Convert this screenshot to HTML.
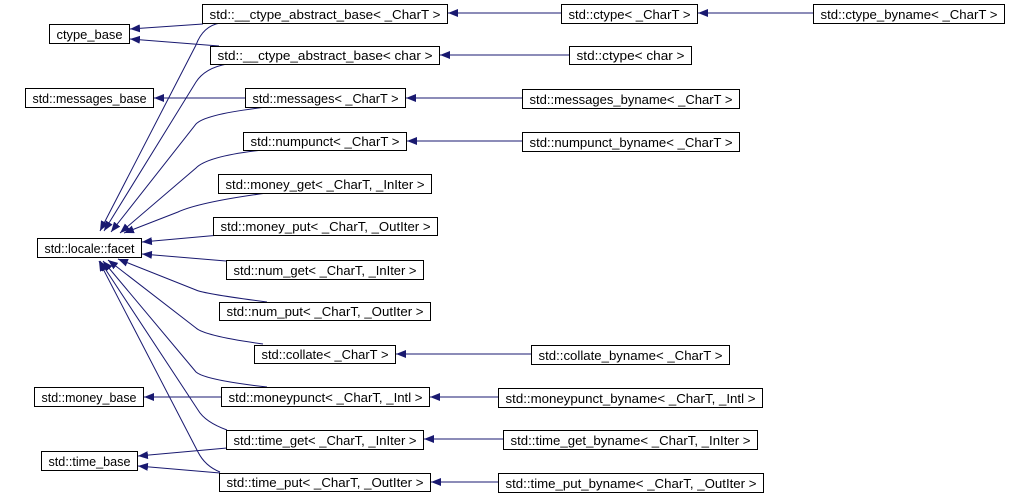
<!DOCTYPE html>
<html><head><meta charset="utf-8"><style>
html,body{margin:0;padding:0;background:#fff;}
svg{display:block;}
text{font-family:"Liberation Sans",sans-serif;font-size:13px;fill:#000;}
</style></head><body>
<svg width="1030" height="494" viewBox="0 0 1030 494" xmlns="http://www.w3.org/2000/svg">
<defs>
<marker id="a" markerWidth="11" markerHeight="8" refX="10" refY="4" orient="auto" markerUnits="userSpaceOnUse">
<path d="M0,0 L10,4 L0,8 z" fill="#191970"/>
</marker>
</defs>
<g fill="none" stroke="#191970" stroke-width="1" marker-end="url(#a)">
<path d="M561,13 L448,13"/>
<path d="M813,13 L698,13"/>
<path d="M569,55 L440,55"/>
<path d="M522,98 L406,98"/>
<path d="M522,141 L407,141"/>
<path d="M531,354 L396,354"/>
<path d="M498,397 L430,397"/>
<path d="M503,439 L424,439"/>
<path d="M498,482 L431,482"/>
<path d="M203,24 L130,29"/>
<path d="M219,46 L130,39"/>
<path d="M245,98 L154,98"/>
<path d="M221,397 L144,397"/>
<path d="M227,448 L138,456"/>
<path d="M220,473 L138,466"/>
<path d="M220,23 Q203,26 196,45 L100,231"/>
<path d="M227,64 Q205,68 196,82 L104,231"/>
<path d="M267,107 Q205,114 196,124 L111,232"/>
<path d="M263,150 Q208,156 196,168 L120,233"/>
<path d="M267,193 Q200,202 178,212 L124,233"/>
<path d="M220,235 L142,242"/>
<path d="M226,261 L142,254"/>
<path d="M267,302 Q205,294 196,290 L118,259"/>
<path d="M263,344 Q205,336 196,328 L108,260"/>
<path d="M267,387 Q205,380 196,372 L103,261"/>
<path d="M227,430 Q205,422 198,410 L100,261"/>
<path d="M220,472 Q205,466 198,452 L99,261"/>
</g>
<g fill="#fff" stroke="#000" stroke-width="1">
<rect x="49.5" y="24.5" width="80" height="19"/>
<rect x="202.5" y="4.5" width="245" height="19"/>
<rect x="210.5" y="46.5" width="229" height="18"/>
<rect x="25.5" y="88.5" width="128" height="19"/>
<rect x="245.5" y="88.5" width="160" height="19"/>
<rect x="243.5" y="132.5" width="163" height="18"/>
<rect x="218.5" y="174.5" width="213" height="19"/>
<rect x="213.5" y="217.5" width="224" height="18"/>
<rect x="37.5" y="238.5" width="104" height="19"/>
<rect x="226.5" y="260.5" width="197" height="19"/>
<rect x="219.5" y="302.5" width="211" height="18"/>
<rect x="254.5" y="345.5" width="141" height="18"/>
<rect x="34.5" y="387.5" width="109" height="19"/>
<rect x="221.5" y="387.5" width="208" height="19"/>
<rect x="226.5" y="430.5" width="197" height="19"/>
<rect x="41.5" y="451.5" width="96" height="19"/>
<rect x="219.5" y="473.5" width="211" height="18"/>
<rect x="561.5" y="4.5" width="136" height="19"/>
<rect x="813.5" y="4.5" width="191" height="19"/>
<rect x="569.5" y="46.5" width="122" height="18"/>
<rect x="522.5" y="89.5" width="217" height="19"/>
<rect x="522.5" y="132.5" width="217" height="19"/>
<rect x="531.5" y="345.5" width="198" height="19"/>
<rect x="498.5" y="388.5" width="264" height="19"/>
<rect x="503.5" y="430.5" width="254" height="19"/>
<rect x="498.5" y="473.5" width="265" height="19"/>
</g>
<g text-anchor="middle" lengthAdjust="spacingAndGlyphs">
<text x="89.5" y="39" textLength="66" lengthAdjust="spacingAndGlyphs">ctype_base</text>
<text x="325" y="19" textLength="231" lengthAdjust="spacingAndGlyphs">std::__ctype_abstract_base&lt; _CharT &gt;</text>
<text x="325" y="60" textLength="215" lengthAdjust="spacingAndGlyphs">std::__ctype_abstract_base&lt; char &gt;</text>
<text x="89.5" y="103" textLength="114" lengthAdjust="spacingAndGlyphs">std::messages_base</text>
<text x="325.5" y="103" textLength="146" lengthAdjust="spacingAndGlyphs">std::messages&lt; _CharT &gt;</text>
<text x="325" y="146" textLength="149" lengthAdjust="spacingAndGlyphs">std::numpunct&lt; _CharT &gt;</text>
<text x="325" y="189" textLength="199" lengthAdjust="spacingAndGlyphs">std::money_get&lt; _CharT, _InIter &gt;</text>
<text x="325.5" y="231" textLength="210" lengthAdjust="spacingAndGlyphs">std::money_put&lt; _CharT, _OutIter &gt;</text>
<text x="89.5" y="253" textLength="90" lengthAdjust="spacingAndGlyphs">std::locale::facet</text>
<text x="325" y="275" textLength="183" lengthAdjust="spacingAndGlyphs">std::num_get&lt; _CharT, _InIter &gt;</text>
<text x="325" y="316" textLength="197" lengthAdjust="spacingAndGlyphs">std::num_put&lt; _CharT, _OutIter &gt;</text>
<text x="325" y="359" textLength="127" lengthAdjust="spacingAndGlyphs">std::collate&lt; _CharT &gt;</text>
<text x="89" y="402" textLength="95" lengthAdjust="spacingAndGlyphs">std::money_base</text>
<text x="325.5" y="402" textLength="194" lengthAdjust="spacingAndGlyphs">std::moneypunct&lt; _CharT, _Intl &gt;</text>
<text x="325" y="445" textLength="183" lengthAdjust="spacingAndGlyphs">std::time_get&lt; _CharT, _InIter &gt;</text>
<text x="89.5" y="466" textLength="82" lengthAdjust="spacingAndGlyphs">std::time_base</text>
<text x="325" y="487" textLength="197" lengthAdjust="spacingAndGlyphs">std::time_put&lt; _CharT, _OutIter &gt;</text>
<text x="629.5" y="19" textLength="122" lengthAdjust="spacingAndGlyphs">std::ctype&lt; _CharT &gt;</text>
<text x="909" y="19" textLength="177" lengthAdjust="spacingAndGlyphs">std::ctype_byname&lt; _CharT &gt;</text>
<text x="630.5" y="60" textLength="108" lengthAdjust="spacingAndGlyphs">std::ctype&lt; char &gt;</text>
<text x="631" y="104" textLength="203" lengthAdjust="spacingAndGlyphs">std::messages_byname&lt; _CharT &gt;</text>
<text x="631" y="147" textLength="203" lengthAdjust="spacingAndGlyphs">std::numpunct_byname&lt; _CharT &gt;</text>
<text x="630.5" y="360" textLength="184" lengthAdjust="spacingAndGlyphs">std::collate_byname&lt; _CharT &gt;</text>
<text x="630.5" y="403" textLength="250" lengthAdjust="spacingAndGlyphs">std::moneypunct_byname&lt; _CharT, _Intl &gt;</text>
<text x="630.5" y="445" textLength="240" lengthAdjust="spacingAndGlyphs">std::time_get_byname&lt; _CharT, _InIter &gt;</text>
<text x="631" y="488" textLength="251" lengthAdjust="spacingAndGlyphs">std::time_put_byname&lt; _CharT, _OutIter &gt;</text>
</g>
</svg>
</body></html>
